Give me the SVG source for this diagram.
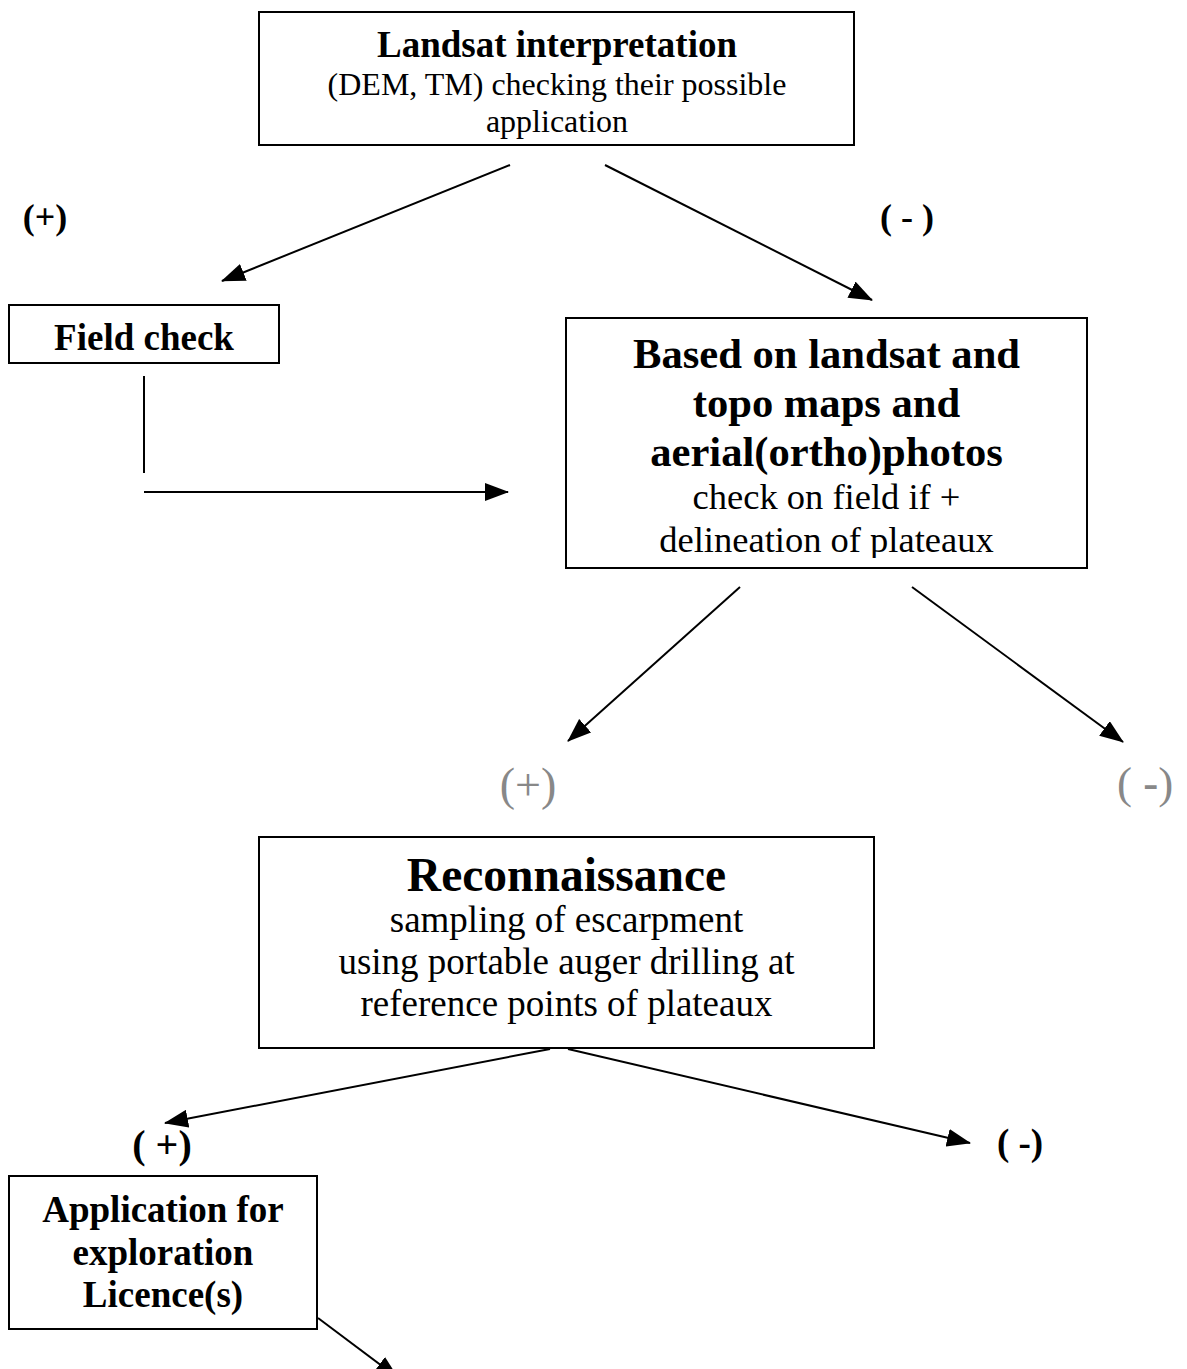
<svg xmlns="http://www.w3.org/2000/svg" width="1187" height="1369" viewBox="0 0 1187 1369">
<style>
.box{fill:#fff;stroke:#000;stroke-width:2}
.t{font-family:"Liberation Serif","Times New Roman",serif;fill:#000;text-anchor:middle}
.b{font-weight:bold}
.g{fill:#888}
.c{stroke:#000;stroke-width:2;fill:none}
</style>
<defs>
<marker id="ah" viewBox="0 0 24 18" refX="23" refY="9" markerWidth="24" markerHeight="18" markerUnits="userSpaceOnUse" orient="auto">
<path d="M0,0 L24,9 L0,18 z" fill="#000"/>
</marker>
<clipPath id="clipB"><rect x="566" y="318" width="521" height="240"/></clipPath>
</defs>
<rect width="1187" height="1369" fill="#fff"/>
<g id="connectors">
<line class="c" x1="510" y1="165" x2="222" y2="281" marker-end="url(#ah)"/>
<line class="c" x1="605" y1="165" x2="872" y2="300" marker-end="url(#ah)"/>
<line class="c" x1="144" y1="376" x2="144" y2="473"/>
<line class="c" x1="144" y1="492" x2="508" y2="492" marker-end="url(#ah)"/>
<line class="c" x1="740" y1="587" x2="568" y2="741" marker-end="url(#ah)"/>
<line class="c" x1="912" y1="587" x2="1123" y2="742" marker-end="url(#ah)"/>
<line class="c" x1="550" y1="1049" x2="165" y2="1123" marker-end="url(#ah)"/>
<line class="c" x1="568" y1="1049" x2="970" y2="1143" marker-end="url(#ah)"/>
<line class="c" x1="318" y1="1318" x2="398" y2="1378" marker-end="url(#ah)"/>
</g>
<g id="landsat">
<rect class="box" x="259" y="12" width="595" height="133"/>
<text class="t b" x="557" y="57" font-size="37">Landsat interpretation</text>
<text class="t" x="557" y="95" font-size="32">(DEM, TM) checking their possible</text>
<text class="t" x="557" y="132" font-size="32">application</text>
</g>
<g id="label-plus1"><text class="t b" x="45" y="229" font-size="36">(+)</text></g>
<g id="label-minus1"><text class="t b" x="907" y="229" font-size="36">( - )</text></g>
<g id="fieldcheck">
<rect class="box" x="9" y="305" width="270" height="58"/>
<text class="t b" x="144" y="350" font-size="37">Field check</text>
</g>
<g id="based">
<rect class="box" x="566" y="318" width="521" height="250"/>
<g clip-path="url(#clipB)">
<text class="t b" x="826.5" y="368" font-size="42.6">Based on landsat and</text>
<text class="t b" x="826.5" y="417" font-size="42.6">topo maps and</text>
<text class="t b" x="826.5" y="466" font-size="42.6">aerial(ortho)photos</text>
<text class="t" x="826.5" y="509" font-size="36.5">check on field if +</text>
<text class="t" x="826.5" y="552" font-size="36.5">delineation of plateaux</text>
</g>
</g>
<g id="label-plus2"><text class="t g" x="528" y="800" font-size="46">(+)</text></g>
<g id="label-minus2"><text class="t g" x="1145" y="798" font-size="45">( <tspan class="b">-</tspan>)</text></g>
<g id="reconnaissance">
<rect class="box" x="259" y="837" width="615" height="211"/>
<text class="t b" x="566.5" y="891" font-size="47.5">Reconnaissance</text>
<text class="t" x="566.5" y="932" font-size="37">sampling of escarpment</text>
<text class="t" x="566.5" y="974" font-size="37">using portable auger drilling at</text>
<text class="t" x="566.5" y="1016" font-size="37">reference points of plateaux</text>
</g>
<g id="label-plus3"><text class="t b" x="162" y="1158" font-size="40">( +)</text></g>
<g id="label-minus3"><text class="t b" x="1020" y="1155" font-size="37">( -)</text></g>
<g id="application">
<rect class="box" x="9" y="1176" width="308" height="153"/>
<text class="t b" x="163" y="1222" font-size="37">Application for</text>
<text class="t b" x="163" y="1265" font-size="37">exploration</text>
<text class="t b" x="163" y="1307" font-size="37">Licence(s)</text>
</g>
</svg>
